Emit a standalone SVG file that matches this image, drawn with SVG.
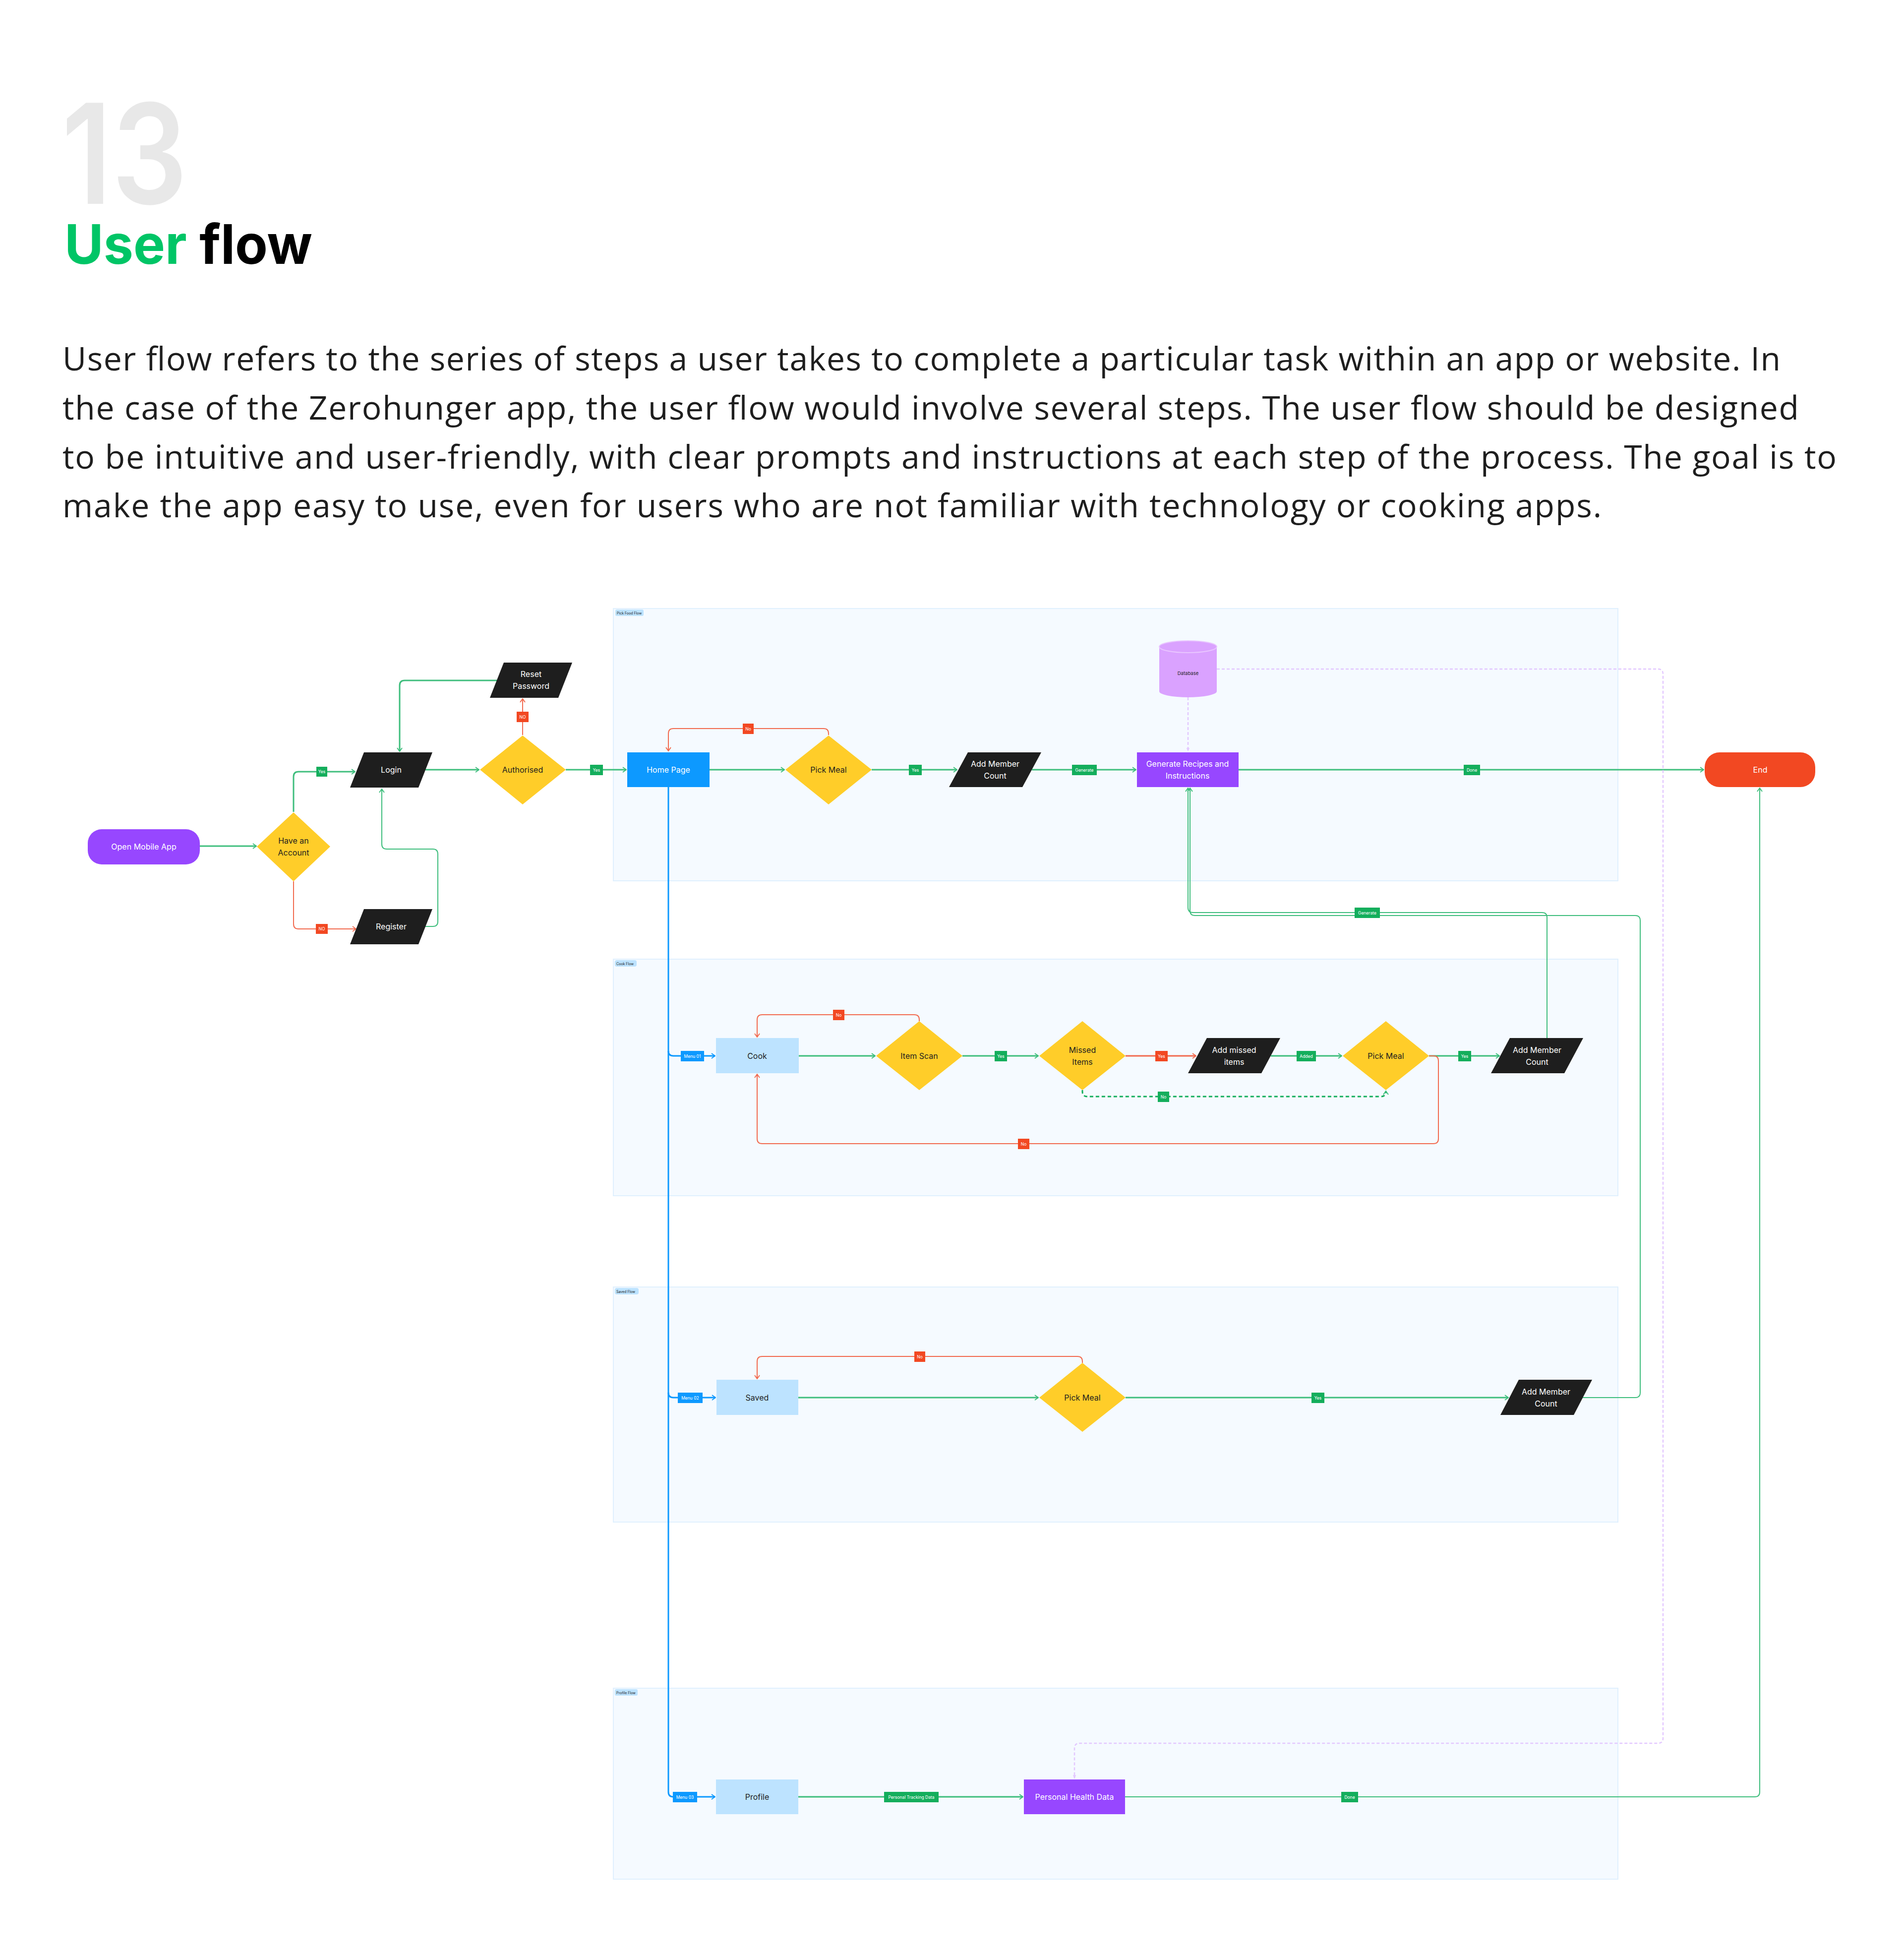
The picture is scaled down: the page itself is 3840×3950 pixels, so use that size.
<svg xmlns="http://www.w3.org/2000/svg" width="3840" height="3950" viewBox="0 0 3840 3950">
<style>
.t{font-family:Inter,"Open Sans","Liberation Sans",sans-serif}
.p{font-family:"Open Sans",Inter,"Liberation Sans",sans-serif;font-size:66px;fill:#1E1E1E}
.nt{font-family:Inter,"Liberation Sans",sans-serif;font-size:16px;text-anchor:middle;dominant-baseline:central}
.w{fill:#FFFFFF}
.d{fill:#1E1E1E}
.lane{fill:#F5FAFF;stroke:#E0F0FE;stroke-width:2}
.chip{fill:#BDE3FF}
.ct{font-family:Inter,"Liberation Sans",sans-serif;font-size:7px;fill:#1E1E1E;dominant-baseline:central}
.lt{font-family:Inter,"Liberation Sans",sans-serif;font-size:8.5px;fill:#FFFFFF;text-anchor:middle;dominant-baseline:central}
.dia{fill:#FFCD29}
.par{fill:#1E1E1E}
.lb{fill:#BDE3FF}
.pu{fill:#9747FF}
.gl{fill:#14AE5C}
.rl{fill:#F24822}
.bl{fill:#0D99FF}
.cg{fill:none;stroke:#3FBE7D;stroke-width:3;marker-end:url(#ag)}
.cg2{fill:none;stroke:#3FBE7D;stroke-width:2;marker-end:url(#ag)}
.cgd{fill:none;stroke:#14AE5C;stroke-width:3;stroke-dasharray:7 5;marker-end:url(#ag)}
.cr{fill:none;stroke:#F26B50;stroke-width:2;marker-end:url(#ar)}
.cr3{fill:none;stroke:#F26B50;stroke-width:3;marker-end:url(#ar)}
.cb{fill:none;stroke:#0D99FF;stroke-width:3}
.cba{fill:none;stroke:#0D99FF;stroke-width:3;marker-end:url(#ab)}
.cp{fill:none;stroke:#E3C8FF;stroke-width:2.5;stroke-dasharray:6 4}
</style>
<defs>
<marker id="ag" viewBox="0 0 12 12" refX="11" refY="6" markerWidth="12" markerHeight="12" orient="auto" markerUnits="userSpaceOnUse"><path d="M4,1 L11,6 L4,11" fill="none" stroke="#3FBE7D" stroke-width="2"/></marker>
<marker id="ar" viewBox="0 0 12 12" refX="11" refY="6" markerWidth="12" markerHeight="12" orient="auto" markerUnits="userSpaceOnUse"><path d="M4,1 L11,6 L4,11" fill="none" stroke="#F26B50" stroke-width="2"/></marker>
<marker id="ab" viewBox="0 0 12 12" refX="11" refY="6" markerWidth="12" markerHeight="12" orient="auto" markerUnits="userSpaceOnUse"><path d="M4,1 L11,6 L4,11" fill="none" stroke="#0D99FF" stroke-width="2"/></marker>
<marker id="ap" viewBox="0 0 12 12" refX="11" refY="6" markerWidth="10" markerHeight="10" orient="auto" markerUnits="userSpaceOnUse"><path d="M3,2 L11,6 L3,10 Z" fill="#E3C8FF"/></marker>
</defs>
<rect width="3840" height="3950" fill="#FFFFFF"/>

<g id="header">
<text class="t" x="124" y="411" font-size="280" font-weight="600" fill="#E8E8E8" textLength="254" lengthAdjust="spacingAndGlyphs">13</text>
<text class="t" x="130" y="532" font-size="110" font-weight="700" textLength="500" lengthAdjust="spacingAndGlyphs"><tspan fill="#00C566">User</tspan><tspan fill="#000000"> flow</tspan></text>
<text class="p" x="126" y="747" textLength="3465" lengthAdjust="spacing">User flow refers to the series of steps a user takes to complete a particular task within an app or website. In</text>
<text class="p" x="126" y="846" textLength="3502" lengthAdjust="spacing">the case of the Zerohunger app, the user flow would involve several steps. The user flow should be designed</text>
<text class="p" x="126" y="945" textLength="3578" lengthAdjust="spacing">to be intuitive and user-friendly, with clear prompts and instructions at each step of the process. The goal is to</text>
<text class="p" x="126" y="1043" textLength="3104" lengthAdjust="spacing">make the app easy to use, even for users who are not familiar with technology or cooking apps.</text>
</g>

<g id="lanes">
<g id="lane-pick"><rect class="lane" x="1237" y="1227" width="2026" height="549"/><rect class="chip" x="1241" y="1229" width="57" height="13" rx="3"/><text class="ct" x="1244" y="1236">Pick Food Flow</text></g>
<g id="lane-cook"><rect class="lane" x="1237" y="1934" width="2026" height="477"/><rect class="chip" x="1240" y="1936" width="44" height="13" rx="4"/><text class="ct" x="1243" y="1943">Cook Flow</text></g>
<g id="lane-saved"><rect class="lane" x="1237" y="2595" width="2026" height="474"/><rect class="chip" x="1240" y="2597" width="48" height="13" rx="4"/><text class="ct" x="1243" y="2604">Saved Flow</text></g>
<g id="lane-profile"><rect class="lane" x="1237" y="3404" width="2026" height="385"/><rect class="chip" x="1240" y="3406" width="46" height="13" rx="3"/><text class="ct" x="1243" y="3413">Profile Flow</text></g>
</g>

<g id="connectors">
<path class="cg" d="M403,1706 H517"/>
<path class="cg" d="M592,1637 V1566 Q592,1556 602,1556 H716"/>
<path class="cr" d="M592,1777 V1863 Q592,1873 602,1873 H718"/>
<path class="cg2" d="M857,1868 H873 Q883,1868 883,1858 V1722 Q883,1712 873,1712 H780 Q770,1712 770,1702 V1591"/>
<path class="cg" d="M858,1552 H966"/>
<path class="cr" d="M1054,1482 V1409"/>
<path class="cg" d="M1003,1372 H816 Q806,1372 806,1382 V1515"/>
<path class="cg" d="M1141,1552 H1263"/>

<path class="cg" d="M1431,1552 H1582"/>
<path class="cr" d="M1671,1482 V1479 Q1671,1469 1661,1469 H1358 Q1348,1469 1348,1479 V1514"/>
<path class="cg" d="M1758,1552 H1930"/>
<path class="cg" d="M2081,1552 H2291"/>
<path class="cg" d="M2497,1552 H3436"/>
<path class="cp" d="M2396,1406 V1515" marker-end="url(#ap)"/>
<path class="cp" d="M2454,1349 H3344 Q3354,1349 3354,1359 V3505 Q3354,3515 3344,3515 H2177 Q2167,3515 2167,3525 V3586" marker-end="url(#ap)"/>

<path class="cb" d="M1348,1587 V3613"/>
<path class="cba" d="M1348,3613 Q1348,3623 1358,3623 H1442"/>
<path class="cba" d="M1348,2119 Q1348,2129 1358,2129 H1442"/>
<path class="cba" d="M1348,2808 Q1348,2818 1358,2818 H1443"/>

<path class="cg" d="M1611,2129 H1765"/>
<path class="cr" d="M1854,2059 V2056 Q1854,2046 1844,2046 H1537 Q1527,2046 1527,2056 V2091"/>
<path class="cg" d="M1941,2129 H2094"/>
<path class="cr3" d="M2270,2129 H2412"/>
<path class="cg" d="M2563,2129 H2706"/>
<path class="cgd" d="M2183,2198 V2201 Q2183,2211 2193,2211 H2785 Q2795,2211 2795,2201 V2200"/>
<path class="cg" d="M2882,2129 H3024"/>
<path class="cr" d="M2882,2129 H2891 Q2901,2129 2901,2139 V2296 Q2901,2306 2891,2306 H1537 Q1527,2306 1527,2296 V2166"/>
<path class="cg2" d="M3120,2093 V1850 Q3120,1840 3110,1840 H2406 Q2396,1840 2396,1830 V1589"/>

<path class="cg" d="M1610,2818 H2094"/>
<path class="cr" d="M2183,2748 V2745 Q2183,2735 2173,2735 H1537 Q1527,2735 1527,2745 V2780"/>
<path class="cg" d="M2270,2818 H3042"/>
<path class="cg2" d="M3192,2818 H3298 Q3308,2818 3308,2808 V1856 Q3308,1846 3298,1846 H2410 Q2400,1846 2400,1836 V1589"/>

<path class="cg" d="M1610,3623 H2063"/>
<path class="cg2" d="M2269,3623 H3539 Q3549,3623 3549,3613 V1589"/>

<g id="conn-labels">
<rect class="gl" x="638" y="1546" width="22" height="20"/><text class="lt" x="649" y="1556">Yes</text>
<rect class="rl" x="637" y="1863" width="24" height="20"/><text class="lt" x="649" y="1873">NO</text>
<rect class="rl" x="1042" y="1435" width="24" height="21"/><text class="lt" x="1054" y="1445.5">NO</text>
<rect class="gl" x="1190" y="1542" width="26" height="21"/><text class="lt" x="1203" y="1552.5">Yes</text>
<rect class="rl" x="1498" y="1459" width="22" height="21"/><text class="lt" x="1509" y="1469.5">No</text>
<rect class="gl" x="1833" y="1542" width="26" height="21"/><text class="lt" x="1846" y="1552.5">Yes</text>
<rect class="gl" x="2162" y="1542" width="50" height="21"/><text class="lt" x="2187" y="1552.5">Generate</text>
<rect class="gl" x="2952" y="1542" width="33" height="21"/><text class="lt" x="2968.5" y="1552.5">Done</text>
<rect class="gl" x="2732" y="1830" width="51" height="21"/><text class="lt" x="2757.5" y="1840.5">Generate</text>
<rect class="bl" x="1373" y="2119" width="47" height="21"/><text class="lt" x="1396.5" y="2129.5">Menu 01</text>
<rect class="rl" x="1680" y="2036" width="23" height="21"/><text class="lt" x="1691.5" y="2046.5">No</text>
<rect class="gl" x="2006" y="2119" width="25" height="21"/><text class="lt" x="2018.5" y="2129.5">Yes</text>
<rect class="rl" x="2330" y="2119" width="25" height="21"/><text class="lt" x="2342.5" y="2129.5">Yes</text>
<rect class="gl" x="2615" y="2119" width="39" height="21"/><text class="lt" x="2634.5" y="2129.5">Added</text>
<rect class="gl" x="2335" y="2201" width="23" height="21"/><text class="lt" x="2346.5" y="2211.5">No</text>
<rect class="gl" x="2941" y="2119" width="26" height="21"/><text class="lt" x="2954" y="2129.5">Yes</text>
<rect class="rl" x="2053" y="2296" width="23" height="21"/><text class="lt" x="2064.5" y="2306.5">No</text>
<rect class="bl" x="1367" y="2808" width="50" height="21"/><text class="lt" x="1392" y="2818.5">Menu 02</text>
<rect class="rl" x="1844" y="2725" width="22" height="21"/><text class="lt" x="1855" y="2735.5">No</text>
<rect class="gl" x="2645" y="2808" width="26" height="21"/><text class="lt" x="2658" y="2818.5">Yes</text>
<rect class="bl" x="1357" y="3613" width="49" height="21"/><text class="lt" x="1381.5" y="3623.5">Menu 03</text>
<rect class="gl" x="1783" y="3613" width="110" height="21"/><text class="lt" x="1838" y="3623.5">Personal Tracking Data</text>
<rect class="gl" x="2705" y="3613" width="34" height="21"/><text class="lt" x="2722" y="3623.5">Done</text>
</g>
</g>

<g id="n-open"><rect class="pu" x="177" y="1672" width="226" height="71" rx="28"/><text class="nt w" x="290" y="1707">Open Mobile App</text></g>
<g id="n-have"><polygon class="dia" points="592,1638 666,1707 592,1777 518,1707"/><text class="nt d" x="592" y="1695">Have an</text><text class="nt d" x="592" y="1719">Account</text></g>
<g id="n-login"><polygon class="par" points="734,1517 872,1517 844,1588 706,1588"/><text class="nt w" x="789" y="1552">Login</text></g>
<g id="n-register"><polygon class="par" points="734,1833 872,1833 844,1904 706,1904"/><text class="nt w" x="789" y="1868">Register</text></g>
<g id="n-auth"><polygon class="dia" points="1054,1483 1141,1552 1054,1622 968,1552"/><text class="nt d" x="1054" y="1552">Authorised</text></g>
<g id="n-reset"><polygon class="par" points="1016,1336 1154,1336 1126,1407 988,1407"/><text class="nt w" x="1071" y="1359">Reset</text><text class="nt w" x="1071" y="1383">Password</text></g>

<g id="n-home"><rect class="bl" x="1265" y="1517" width="166" height="70"/><text class="nt w" x="1348" y="1552">Home Page</text></g>
<g id="n-pick1"><polygon class="dia" points="1671,1483 1758,1552 1671,1622 1584,1552"/><text class="nt d" x="1671" y="1552">Pick Meal</text></g>
<g id="n-amc1"><polygon class="par" points="1952,1517 2100,1517 2062,1587 1914,1587"/><text class="nt w" x="2007" y="1540">Add Member</text><text class="nt w" x="2007" y="1564">Count</text></g>
<g id="n-gen"><rect class="pu" x="2293" y="1517" width="205" height="70"/><text class="nt w" x="2395" y="1540">Generate Recipes and</text><text class="nt w" x="2395" y="1564">Instructions</text></g>
<g id="n-db"><path d="M2338,1304 V1394 A58,12 0 0 0 2454,1394 V1304 Z" fill="#DAA2FF"/><ellipse cx="2396" cy="1304" rx="58" ry="12" fill="#DAA2FF" stroke="#E9C6FF" stroke-width="2"/><text class="t" x="2396" y="1357" font-size="9.5" fill="#1E1E1E" text-anchor="middle" dominant-baseline="central">Database</text></g>
<g id="n-end"><rect class="rl" x="3438" y="1517" width="223" height="70" rx="30"/><text class="nt w" x="3550" y="1552">End</text></g>

<g id="n-cook"><rect class="lb" x="1444" y="2093" width="167" height="71"/><text class="nt d" x="1527" y="2129">Cook</text></g>
<g id="n-scan"><polygon class="dia" points="1854,2059 1941,2129 1854,2198 1767,2129"/><text class="nt d" x="1854" y="2129">Item Scan</text></g>
<g id="n-missed"><polygon class="dia" points="2183,2059 2270,2129 2183,2198 2096,2129"/><text class="nt d" x="2183" y="2117">Missed</text><text class="nt d" x="2183" y="2141">Items</text></g>
<g id="n-addmissed"><polygon class="par" points="2434,2093 2582,2093 2544,2164 2396,2164"/><text class="nt w" x="2489" y="2117">Add missed</text><text class="nt w" x="2489" y="2141">items</text></g>
<g id="n-pick2"><polygon class="dia" points="2795,2059 2882,2129 2795,2198 2708,2129"/><text class="nt d" x="2795" y="2129">Pick Meal</text></g>
<g id="n-amc2"><polygon class="par" points="3045,2093 3193,2093 3155,2164 3007,2164"/><text class="nt w" x="3100" y="2117">Add Member</text><text class="nt w" x="3100" y="2141">Count</text></g>

<g id="n-saved"><rect class="lb" x="1445" y="2782" width="165" height="71"/><text class="nt d" x="1527" y="2818">Saved</text></g>
<g id="n-pick3"><polygon class="dia" points="2183,2748 2270,2818 2183,2887 2096,2818"/><text class="nt d" x="2183" y="2818">Pick Meal</text></g>
<g id="n-amc3"><polygon class="par" points="3063,2782 3211,2782 3174,2853 3026,2853"/><text class="nt w" x="3118" y="2806">Add Member</text><text class="nt w" x="3118" y="2830">Count</text></g>

<g id="n-profile"><rect class="lb" x="1444" y="3588" width="166" height="70"/><text class="nt d" x="1527" y="3623">Profile</text></g>
<g id="n-phd"><rect class="pu" x="2065" y="3588" width="204" height="70"/><text class="nt w" x="2167" y="3623">Personal Health Data</text></g>
</svg>
